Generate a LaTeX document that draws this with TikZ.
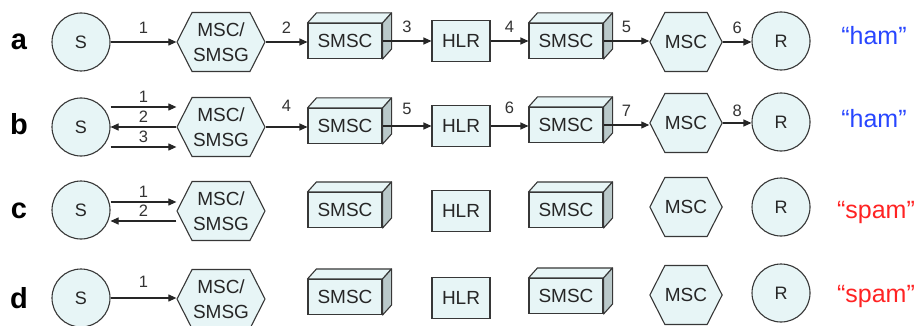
\documentclass[tikz,border=0pt]{standalone}
\usepackage{fontspec}
\setmainfont{Liberation Sans}
\usetikzlibrary{shapes.symbols,arrows.meta}

\definecolor{cellfill}{RGB}{231,245,246}
\definecolor{cellside}{RGB}{186,201,202}
\definecolor{edgegray}{RGB}{55,55,55}
\definecolor{hamblue}{RGB}{40,70,255}
\definecolor{spamred}{RGB}{255,35,35}

\tikzset{
  x=1pt, y=-1pt,
  element/.style={draw=edgegray, line width=1.1pt, fill=cellfill, inner sep=0pt,
    text=black!85, font=\fontsize{19}{25}\selectfont},
  station/.style={element, circle, minimum size=58pt, font=\fontsize{18}{22}\selectfont},
  gateway/.style={element, signal, signal to=east and west, signal pointer angle=126,
    minimum width=#1, minimum height=59pt, align=center},
  smscbox/.style={element, rectangle, minimum width=74pt, minimum height=35pt},
  hlrbox/.style={element, rectangle, minimum width=58pt, minimum height=41pt},
  rowletter/.style={font=\fontsize{29}{29}\selectfont\bfseries, anchor=base},
  verdict/.style={font=\fontsize{25}{25}\selectfont, anchor=base},
  msg/.style={draw=black!85, line width=1.1pt, -{Triangle[length=8pt,width=7pt]}},
  lbl/.style={font=\fontsize{16.5}{16.5}\selectfont, text=black!80, midway, yshift=#1},
  lbl/.default=14pt,
  topface/.style={draw=edgegray, line width=1.1pt, fill=cellfill, line join=round},
  sideface/.style={draw=edgegray, line width=1.1pt, fill=cellside, line join=round},
}

\begin{document}
\begin{tikzpicture}
\useasboundingbox (0,0) rectangle (917,326);

% ---------- row a ----------
\node[rowletter] (la) at (19,50) {a};
\node[station] (sa) at (81,42) {S};
\node[gateway=88pt] (ga) at (221,42) {MSC/\\SMSG};
\node[smscbox] (ca) at (345,41) {SMSC};
\node[hlrbox] (ha) at (461,41) {HLR};
\node[smscbox] (da) at (566,41) {SMSC};
\node[gateway=67pt] (ma) at (686,42) {MSC};
\node[station] (ra) at (781,41) {R};
\node[verdict, text=hamblue] (qa) at (874,45) {“ham”};

% ---------- row b ----------
\node[rowletter] (lb) at (19,135) {b};
\node[station] (sb) at (81,127) {S};
\node[gateway=88pt] (gb) at (221,127) {MSC/\\SMSG};
\node[smscbox] (cb) at (345,126) {SMSC};
\node[hlrbox] (hb) at (461,126) {HLR};
\node[smscbox] (db) at (566,125) {SMSC};
\node[gateway=67pt] (mb) at (686,123) {MSC};
\node[station] (rb) at (781,122) {R};
\node[verdict, text=hamblue] (qb) at (874,128) {“ham”};

% ---------- row c ----------
\node[rowletter] (lc) at (19,218) {c};
\node[station] (sc) at (81,210) {S};
\node[gateway=88pt] (gc) at (221,211) {MSC/\\SMSG};
\node[smscbox] (cc) at (345,210) {SMSC};
\node[hlrbox] (hc) at (461,211) {HLR};
\node[smscbox] (dc) at (566,210) {SMSC};
\node[gateway=67pt] (mc) at (686,207) {MSC};
\node[station] (rc) at (781,207) {R};
\node[verdict, text=spamred] (qc) at (876,218) {“spam”};

% ---------- row d ----------
\node[rowletter] (ld) at (19,308) {d};
\node[station] (sd) at (81,298) {S};
\node[gateway=88pt] (gd) at (221,299) {MSC/\\SMSG};
\node[smscbox] (cd) at (345,297) {SMSC};
\node[hlrbox] (hd) at (461,298) {HLR};
\node[smscbox] (dd) at (566,296) {SMSC};
\node[gateway=67pt] (md) at (686,295) {MSC};
\node[station] (rd) at (781,293) {R};
\node[verdict, text=spamred] (qd) at (876,302) {“spam”};

% 3D faces of the SMSC boxes
\foreach \n in {ca,da,cb,db,cc,dc,cd,dd} {
  \draw[topface] (\n.north west) -- ++(9,-10) -- ([shift={(9,-10)}]\n.north east)
    -- (\n.north east) -- cycle;
  \draw[sideface] (\n.north east) -- ++(9,-10) -- ([shift={(9,-10)}]\n.south east)
    -- (\n.south east) -- cycle;
}

% ---------- messages, row a ----------
\draw[msg] (sa.east) -- (sa.east -| ga.west) node[lbl] {1};
\draw[msg] (ga.east) -- (ga.east -| ca.west) node[lbl] {2};
\draw[msg] (ca.east) -- (ca.east -| ha.west) node[lbl] {3};
\draw[msg] (ha.east) -- (ha.east -| da.west) node[lbl] {4};
\draw[msg] (da.east) -- (da.east -| ma.west) node[lbl] {5};
\draw[msg] (ma.east) -- (ma.east -| ra.west) node[lbl] {6};

% ---------- messages, row b ----------
\draw[msg] ([yshift=20pt]sb.east) -- ([yshift=20pt]gb.west) node[lbl=10pt] {1};
\draw[msg] (gb.west) -- (sb.east) node[lbl=10pt] {2};
\draw[msg] ([yshift=-20pt]sb.east) -- ([yshift=-20pt]gb.west) node[lbl=10pt] {3};
\draw[msg] (gb.east) -- (gb.east -| cb.west) node[lbl=21pt] {4};
\draw[msg] (cb.east) -- (cb.east -| hb.west) node[lbl=17pt] {5};
\draw[msg] (hb.east) -- (hb.east -| db.west) node[lbl=18pt] {6};
\draw[msg] (db.east) -- (db.east -| mb.west) node[lbl=14pt] {7};
\draw[msg] (mb.east) -- (mb.east -| rb.west) node[lbl=12pt] {8};

% ---------- messages, row c ----------
\coordinate (c1) at ([yshift=9pt]gc.west);
\coordinate (c2) at ([yshift=-10pt]gc.west);
\draw[msg] (c1 -| sc.east) -- (c1) node[lbl=10pt] {1};
\draw[msg] (c2) -- (c2 -| sc.east) node[lbl=10pt] {2};

% ---------- messages, row d ----------
\draw[msg] (sd.east) -- (sd.east -| gd.west) node[lbl=16pt] {1};
\end{tikzpicture}
\end{document}
